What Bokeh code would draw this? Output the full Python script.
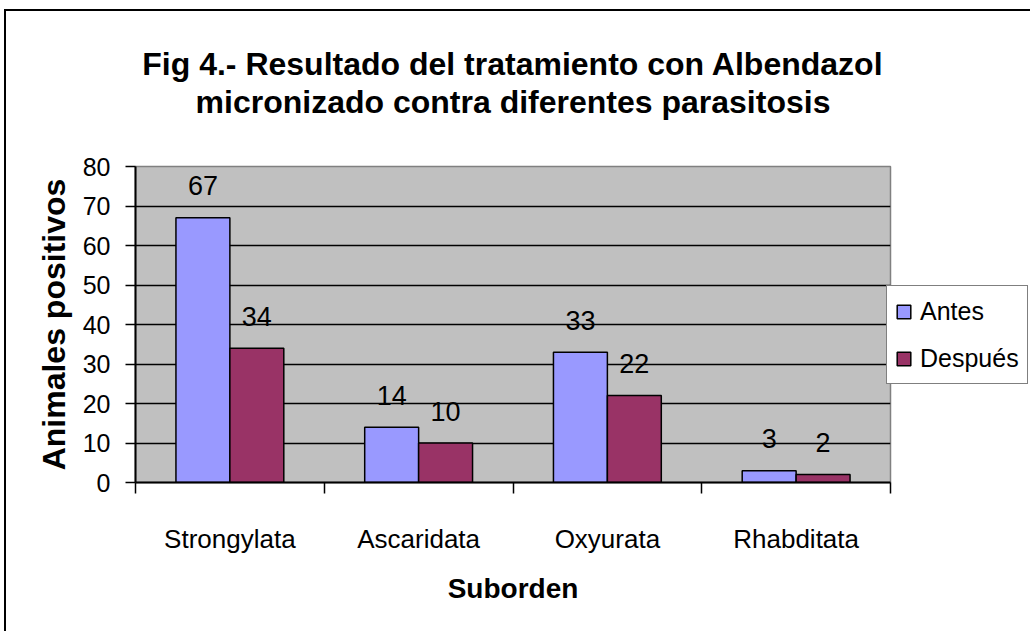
from bokeh.plotting import figure
from bokeh.models import Range1d, FixedTicker, Legend, LegendItem, ColumnDataSource, Title
from bokeh.embed import file_html
from bokeh.resources import INLINE
from bokeh.core.properties import value

# ---- data ----
categories = ["Strongylata", "Ascaridata", "Oxyurata", "Rhabditata"]
antes = [67, 14, 33, 3]
despues = [34, 10, 22, 2]
series_names = ["Antes", "Después"]
y_ticks = [0, 10, 20, 30, 40, 50, 60, 70, 80]
title_lines = ["Fig 4.- Resultado del tratamiento con Albendazol",
               "micronizado contra diferentes parasitosis"]
x_title = "Suborden"
y_title = "Animales positivos"

FONT = "Liberation Sans"
n = len(categories)
centers = [i + 0.5 for i in range(n)]
bw = 1 / 3.5

p = figure(frame_width=755, frame_height=316,
           x_range=Range1d(0, n), y_range=Range1d(0, y_ticks[-1]),
           output_backend="svg", toolbar_location=None, title=None,
           min_border_left=129, min_border_right=138,
           min_border_top=155, min_border_bottom=149,
           background_fill_color="#C0C0C0", border_fill_color="white")
p.styles = {"border-left": "2px solid black", "border-top": "2px solid black",
            "margin-left": "4px", "margin-top": "9px"}

p.outline_line_color = "#808080"
p.outline_line_width = 1.5

# spacer between the frame and the title lines
p.add_layout(Title(text=" ", text_font_size="1px", standoff=44), "above")
# title lines, closest to the frame first
for line in reversed(title_lines):
    p.add_layout(Title(text=line, align="center", text_font=FONT,
                       text_font_size="32px", text_font_style="bold",
                       text_color="black", standoff=0), "above")

# bars
src_a = ColumnDataSource(dict(x=[c - bw / 2 for c in centers], top=antes,
                              lab=[str(v) for v in antes]))
src_d = ColumnDataSource(dict(x=[c + bw / 2 for c in centers], top=despues,
                              lab=[str(v) for v in despues]))
r_a = p.vbar(x="x", top="top", bottom=0, width=bw, source=src_a,
             fill_color="#9999FF", line_color="black", line_width=1.5)
r_d = p.vbar(x="x", top="top", bottom=0, width=bw, source=src_d,
             fill_color="#993366", line_color="black", line_width=1.5)

for src in (src_a, src_d):
    p.text(x="x", y="top", text="lab", source=src, text_align="center",
           text_baseline="middle", y_offset=-32, text_font=value(FONT),
           text_font_size="27px", text_color="black")

# axes
p.xaxis.ticker = FixedTicker(ticks=centers, minor_ticks=list(range(n + 1)))
p.xaxis.major_label_overrides = {c: cat for c, cat in zip(centers, categories)}
p.xaxis.major_tick_out = 0
p.xaxis.major_tick_in = 0
p.xaxis.minor_tick_out = 11
p.xaxis.minor_tick_in = 0
p.xaxis.minor_tick_line_color = "black"
p.xaxis.minor_tick_line_width = 1.5
p.xaxis.major_label_standoff = 30
p.xaxis.major_label_text_font = FONT
p.xaxis.major_label_text_font_size = "26px"
p.xaxis.major_label_text_color = "black"
p.xaxis.axis_label = x_title
p.xaxis.axis_label_text_font = FONT
p.xaxis.axis_label_text_font_size = "28px"
p.xaxis.axis_label_text_font_style = "bold"
p.xaxis.axis_label_text_color = "black"
p.xaxis.axis_label_standoff = 16

p.yaxis.ticker = FixedTicker(ticks=y_ticks)
p.yaxis.major_tick_out = 10
p.yaxis.major_tick_in = 0
p.yaxis.minor_tick_line_color = None
p.yaxis.major_tick_line_color = "black"
p.yaxis.major_tick_line_width = 1.5
p.yaxis.major_label_standoff = 15
p.yaxis.major_label_text_font = FONT
p.yaxis.major_label_text_font_size = "25px"
p.yaxis.major_label_text_color = "black"
p.yaxis.axis_label = y_title
p.yaxis.axis_label_text_font = FONT
p.yaxis.axis_label_text_font_size = "32px"
p.yaxis.axis_label_text_font_style = "bold"
p.yaxis.axis_label_text_color = "black"
p.yaxis.axis_label_standoff = 8

for ax in (p.xaxis, p.yaxis):
    ax.axis_line_color = "black"
    ax.axis_line_width = 2

p.xgrid.grid_line_color = None
p.ygrid.grid_line_color = "black"
p.ygrid.grid_line_width = 1.5

legend = Legend(items=[LegendItem(label=series_names[0], renderers=[r_a]),
                       LegendItem(label=series_names[1], renderers=[r_d])],
                location=(-4, 98), orientation="vertical",
                label_text_font=FONT, label_text_font_size="25px",
                label_text_color="black", label_text_baseline="middle",
                glyph_width=17, glyph_height=17, label_standoff=8,
                padding=8, spacing=13, label_height=34, margin=0,
                border_line_color="black", border_line_width=1.5,
                background_fill_color="white", background_fill_alpha=1.0)
p.add_layout(legend, "right")

open("out.html", "w").write(file_html(p, INLINE))
